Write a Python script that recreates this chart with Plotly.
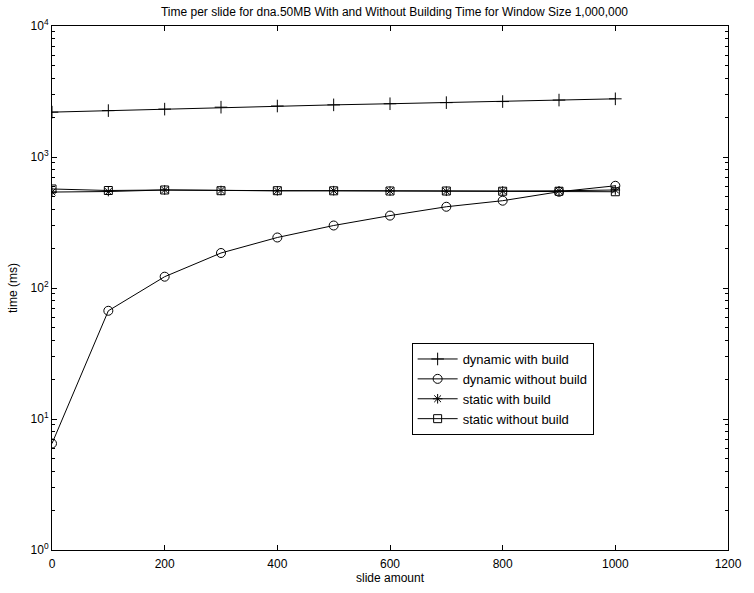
import plotly.graph_objects as go

slide_amount = [0, 100, 200, 300, 400, 500, 600, 700, 800, 900, 1000]
dynamic_with_build = [2200, 2260, 2320, 2400, 2450, 2500, 2550, 2600, 2650, 2720, 2780]
dynamic_without_build = [6.5, 67, 122, 185, 243, 300, 357, 417, 464, 543, 603]
static_with_build = [540, 545, 560, 555, 552, 553, 550, 548, 550, 552, 560]
static_without_build = [570, 555, 560, 553, 553, 552, 550, 550, 548, 548, 543]

x_ticks = [0, 200, 400, 600, 800, 1000, 1200]
y_ticks = [1, 10, 100, 1000, 10000]
y_ticktext = ["10<sup>0</sup>", "10<sup>1</sup>", "10<sup>2</sup>", "10<sup>3</sup>", "10<sup>4</sup>"]
y_minor = [m * d for d in [1, 10, 100, 1000] for m in range(2, 10)]

series = [
    ("dynamic with build", dynamic_with_build, "cross-thin-open", 9),
    ("dynamic without build", dynamic_without_build, "circle-open", 9),
    ("static with build", static_with_build, "asterisk-open", 8),
    ("static without build", static_without_build, "square-open", 8),
]

fig = go.Figure()
for name, vals, sym, sz in series:
    fig.add_trace(go.Scatter(
        x=slide_amount, y=vals, name=name, mode="lines+markers",
        line=dict(color="black", width=1),
        marker=dict(symbol=sym, size=sz, color="black", line=dict(color="black", width=1)),
    ))

fam = "Liberation Sans, Arial, sans-serif"
font = dict(family=fam, size=12, color="black")
fig.update_layout(
    width=754, height=593,
    margin=dict(l=52, r=17, t=26, b=40),
    paper_bgcolor="white", plot_bgcolor="white",
    font=font,
    title=dict(text="Time per slide for dna.50MB With and Without Building Time for Window Size 1,000,000",
               x=(52 + 737) / 2 / 754, xanchor="center", y=1 - 12 / 593, yanchor="middle",
               font=dict(family=fam, size=12, color="black")),
    showlegend=True,
    legend=dict(x=0.532, y=0.395, xanchor="left", yanchor="top",
                bgcolor="white", bordercolor="black", borderwidth=1,
                font=dict(family=fam, size=13, color="black"), tracegroupgap=0, itemwidth=40),
)
fig.update_xaxes(
    range=[0, 1200], tickvals=x_ticks,
    ticks="inside", ticklen=5, tickcolor="black", showline=True, linecolor="black", linewidth=1,
    mirror="ticks", showgrid=False, zeroline=False, ticklabelstandoff=3,
    tickfont=dict(family=fam, size=12, color="black"),
    title=dict(text="slide amount", standoff=1, font=dict(family=fam, size=12, color="black")),
)
fig.update_yaxes(
    type="log", range=[0, 4],
    tickvals=y_ticks, ticktext=y_ticktext,
    ticks="inside", ticklen=5, tickcolor="black", showline=True, linecolor="black", linewidth=1,
    mirror="ticks", showgrid=False, zeroline=False,
    tickfont=dict(family=fam, size=12, color="black"),
    minor=dict(tickvals=y_minor, ticks="inside", ticklen=3, tickcolor="black", showgrid=False),
    title=dict(text="time (ms)", standoff=10, font=dict(family=fam, size=12, color="black")),
)
fig.write_html("out.html")
